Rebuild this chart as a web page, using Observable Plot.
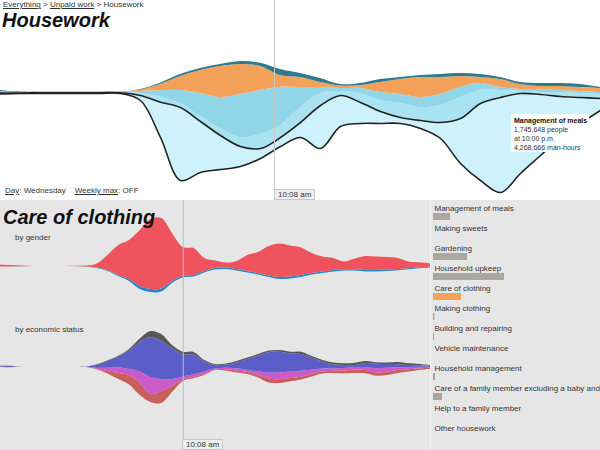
<!DOCTYPE html>
<html><head><meta charset="utf-8">
<script src="https://cdn.jsdelivr.net/npm/d3@7"></script>
<script src="https://cdn.jsdelivr.net/npm/@observablehq/plot@0.6"></script>
<style>
body{margin:0;width:600px;height:450px;overflow:hidden;font-family:"Liberation Sans",Arial,Helvetica,sans-serif;background:#fff;position:relative;color:#222}
.abs{position:absolute;white-space:nowrap}
.u{text-decoration:underline}
.small{font-size:8px;line-height:10px}
.title{font-size:20px;line-height:20px;font-weight:bold;font-style:italic;color:#111}
.marker{font-size:8px;line-height:9px;background:#efefef;border:1px solid #c8c8c8;padding:0 3px;color:#333}
svg{display:block}
</style></head><body>
<div id="top" class="abs" style="left:0;top:0;width:600px;height:200px"></div>
<div id="bottom" class="abs" style="left:0;top:200px;width:600px;height:250px;background:#e6e6e6">
  <div id="gender" class="abs" style="left:0;top:0;width:430px;height:100px"></div>
  <div id="status" class="abs" style="left:0;top:100px;width:430px;height:150px"></div>
  <div id="legend" class="abs" style="left:430px;top:0;width:170px;height:250px;border-left:1px solid #f2f2f2;box-sizing:border-box"></div>
</div>
<div class="abs small" style="left:3px;top:0px;color:#333"><span class="u">Everything</span> &gt; <span class="u">Unpaid work</span> &gt; Housework</div>
<div class="abs title" style="left:2px;top:10px">Housework</div>
<div class="abs small" style="left:5px;top:186px;color:#333"><span class="u">Day</span>: Wednesday&nbsp;&nbsp;&nbsp;&nbsp;<span class="u">Weekly max</span>: OFF</div>
<div class="abs marker" style="left:274px;top:189px">10:08 am</div>
<div class="abs" style="left:511px;top:114px;width:78px;height:38px;background:#fff;font-size:7px;line-height:9px;padding:2px 0 0 3px;box-sizing:border-box;color:#333">
  <div style="font-weight:bold;color:#111">Management of meals</div>
  <div>1,745,648 people</div>
  <div>at 10:00 p.m.</div>
  <div>4,268,666 man-hours</div>
</div>
<div class="abs title" style="left:3px;top:207px">Care of clothing</div>
<div class="abs small" style="left:15px;top:233px;color:#333">by gender</div>
<div class="abs small" style="left:15px;top:325px;color:#333">by economic status</div>
<div class="abs marker" style="left:182px;top:439px">10:08 am</div>
<script>
// ---------- Housework (top) : hours since start of the displayed day ----------
const hoursTop = [0,0.8,1.6,2.4,3.2,4,4.8,5.6,6.4,7.2,8,8.8,9.6,10.4,11.2,12,12.8,13.6,14.4,15.2,16,16.8,17.6,18.4,19.2,20,20.8,21.6,22.4,23.2,24];
// streamgraph baseline (bottom of the stack), thousands of people
const baseTop = [-30,-20,-20,-20,-20,-20,-20,-160,-900,-1760,-1600,-1540,-1480,-1320,-1080,-900,-1120,-680,-620,-620,-620,-720,-920,-1420,-1760,-2000,-1620,-1260,-900,-620,-360];
const mealsTop = [20,10,16,16,16,16,16,100,706,1460,1020,680,400,200,180,300,860,620,420,240,120,160,320,900,1540,1900,1600,1220,820,520,240];
const gardeningTop = [10,10,4,4,4,4,4,40,94,80,100,140,180,280,240,300,240,80,180,220,280,260,340,420,260,140,40,40,80,80,80];
const upkeepTop = [0,0,0,0,0,0,0,40,134,260,460,620,860,880,766,400,120,60,100,160,180,200,220,200,140,60,40,60,40,40,40];
const clothingTop = [20,0,4,4,4,4,4,30,126,280,460,620,600,480,234,200,100,50,60,200,300,400,340,220,120,160,100,60,80,80,80];
const familyTop = [20,10,4,4,4,4,4,10,26,40,40,40,60,66,120,80,80,30,40,60,40,40,60,60,60,40,40,60,60,60,20];
const markerTop = 10.96;

// ---------- Care of clothing (bottom) ----------
const hoursBottom = [0,0.6,1.2,1.8,2.4,3,3.6,4.2,4.8,5.4,6,6.6,7.2,7.8,8.4,9,9.6,10.2,10.8,11.4,12,12.6,13.2,13.8,14.4,15,15.6,16.2,16.8,17.4,18,18.6,19.2,19.8,20.4,21,21.6,22.2,22.8,23.4,24];
const markerBottom = 10.2;
// by gender (thousands of people)
const genderBase = [-6,-6,-4,0,0,0,0,-3,-7,-20,-50,-100,-150,-230,-260,-255,-170,-115,-105,-65,-35,-30,-45,-65,-85,-110,-130,-125,-110,-85,-70,-55,-45,-45,-55,-55,-50,-43,-33,-22,-15];
const men = [1,1,1,0,0,0,0,1,2,5,10,10,20,30,30,30,20,15,15,15,15,15,15,15,15,15,20,20,20,15,15,15,12,12,15,15,15,13,10,9,8];
const women = [18,15,8,0,0,0,0,4,10,40,150,300,390,560,700,705,480,290,270,130,75,50,80,160,210,295,335,310,275,200,150,120,78,108,140,135,125,110,68,50,34];
// by economic status (thousands of people)
const statusBase = [-5,-7,0,0,0,0,0,0,-4,-28,-70,-125,-180,-285,-355,-365,-255,-145,-118,-85,-35,-42,-60,-75,-110,-160,-165,-147,-130,-100,-70,-65,-68,-65,-68,-93,-85,-65,-50,-35,-22];
const fullTime = [1,1,0,0,0,0,0,0,1,6,25,60,95,120,80,120,60,15,16,10,5,14,20,20,25,40,37,32,27,27,20,23,28,35,33,33,35,30,23,17,10];
const partTime = [1,1,0,0,0,0,0,0,1,10,33,57,60,115,170,120,70,30,24,25,10,16,22,20,35,60,68,65,60,43,30,24,25,25,28,43,37,27,20,15,10];
const notInLabor = [8,10,0,0,0,0,0,0,2,27,67,108,185,295,400,380,310,222,198,100,35,32,58,110,160,205,208,180,168,117,67,41,30,20,42,44,38,31,22,15,7];
const unemployed = [2,3,0,0,0,0,0,0,0,7,7,8,15,35,60,70,30,26,25,15,10,10,15,15,15,15,17,18,23,18,18,17,17,22,20,15,15,22,17,13,10];

// ---------- Legend list ----------
const activities = ["Management of meals","Making sweets","Gardening","Household upkeep","Care of clothing","Making clothing","Building and repairing","Vehicle maintenance","Household management","Care of a family member excluding a baby and","Help to a family member","Other housework"];
const activityValues = [17,0,34,71,28,1.3,1,0,2,9,0,0];

function stackRows(times, base, layers) {
  const rows = [];
  times.forEach((t, i) => {
    let y = base[i];
    for (const [layer, vals] of layers) {
      rows.push({t, layer, y1: y, y2: y + vals[i]});
      y += vals[i];
    }
  });
  return rows;
}
const curve = "catmull-rom";

// Top chart
const topLayers = [["Management of meals", mealsTop],["Gardening", gardeningTop],["Household upkeep", upkeepTop],["Care of clothing", clothingTop],["Care of a family member", familyTop]];
const topRows = stackRows(hoursTop, baseTop, topLayers);
const mealsRows = topRows.filter(d => d.layer === "Management of meals");
document.getElementById("top").append(Plot.plot({
  width: 600, height: 200, margin: 0,
  style: {background: "transparent", overflow: "visible"},
  x: {domain: [0, 24], axis: null},
  y: {domain: [-2160, 1840], axis: null},
  color: {domain: topLayers.map(d => d[0]), range: ["#cdf2fb","#a9e2f0","#90d5e8","#f4a15c","#2d7b8d"]},
  marks: [
    Plot.areaY(topRows, {x: "t", y1: "y1", y2: "y2", z: "layer", fill: "layer", curve}),
    Plot.line(mealsRows, {x: "t", y: "y1", stroke: "#222", strokeWidth: 1.6, curve}),
    Plot.line(mealsRows, {x: "t", y: "y2", stroke: "#222", strokeWidth: 1.6, curve}),
    Plot.ruleX([markerTop], {stroke: "#c8c8c8", strokeWidth: 1})
  ]
}));

// Gender chart
const genderLayers = [["Men", men],["Women", women]];
document.getElementById("gender").append(Plot.plot({
  width: 430, height: 100, margin: 0,
  style: {background: "transparent", overflow: "visible"},
  x: {domain: [0, 24], axis: null},
  y: {domain: [-340, 660], axis: null},
  color: {domain: ["Men","Women"], range: ["#1d8ad2","#ef535e"]},
  marks: [
    Plot.areaY(stackRows(hoursBottom, genderBase, genderLayers), {x: "t", y1: "y1", y2: "y2", z: "layer", fill: "layer", curve}),
    Plot.ruleX([markerBottom], {stroke: "#bdbdbd", strokeWidth: 1})
  ]
}));

// Economic status chart
const statusLayers = [["Full-time employed", fullTime],["Part-time employed", partTime],["Not in labor force", notInLabor],["Unemployed", unemployed]];
document.getElementById("status").append(Plot.plot({
  width: 430, height: 150, margin: 0,
  style: {background: "transparent", overflow: "visible"},
  x: {domain: [0, 24], axis: null},
  y: {domain: [-835, 665], axis: null},
  color: {domain: statusLayers.map(d => d[0]), range: ["#c95e5b","#cb5bc9","#5b5ec9","#585858"]},
  marks: [
    Plot.areaY(stackRows(hoursBottom, statusBase, statusLayers), {x: "t", y1: "y1", y2: "y2", z: "layer", fill: "layer", curve}),
    Plot.ruleX([markerBottom], {stroke: "#bdbdbd", strokeWidth: 1})
  ]
}));

// Legend bar list
const legendRows = activities.map((name, i) => ({name, value: activityValues[i]}));
document.getElementById("legend").append(Plot.plot({
  width: 169, height: 250,
  marginLeft: 2, marginRight: 0, marginTop: 3, marginBottom: 7,
  style: {background: "transparent", overflow: "visible"},
  x: {domain: [0, 167], range: [2, 169], axis: null},
  y: {domain: activities, padding: 0, axis: null},
  marks: [
    Plot.barX(legendRows, {x: "value", y: "name", fill: d => d.name === "Care of clothing" ? "#f5a15c" : "#aaa79f", insetTop: 10, insetBottom: 3}),
    Plot.text(legendRows, {x: 0, y: "name", text: "name", dy: -5, dx: 1, textAnchor: "start", fontSize: 8, fill: "#333", fontFamily: "Liberation Sans, Arial, sans-serif"})
  ]
}));
</script>
</body></html>
